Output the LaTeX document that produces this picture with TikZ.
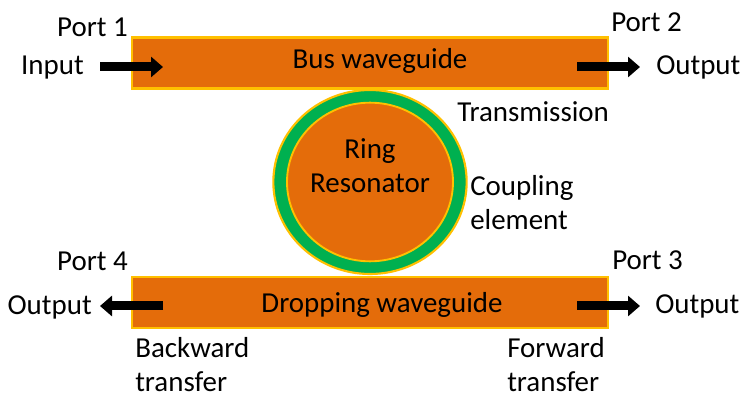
\documentclass[tikz,border=0pt]{standalone}
\usepackage{fontspec}
\setmainfont{Carlito}
\usetikzlibrary{arrows.meta,shapes.geometric}
\definecolor{wgorange}{RGB}{228,108,10}
\definecolor{wgyellow}{RGB}{255,192,0}
\definecolor{wggreen}{RGB}{0,176,80}

\begin{document}
\begin{tikzpicture}[x=0.75pt,y=-0.75pt,
  guide/.style={draw=wgyellow, fill=wgorange, line width=1.8pt, minimum width=357pt, minimum height=38.5pt, inner sep=0pt},
  txt/.style={inner sep=0pt, font=\fontsize{21.7}{25.5}\selectfont, align=left},
  flow/.style={-{Triangle[length=9pt,width=15pt]}, line width=6.75pt}]
\useasboundingbox (0,0) rectangle (744,399);
% waveguides
\node[guide] (bus) at (370,63) {};
\node[guide] (drop) at (370,302.5) {};
\node[txt, anchor=base] (bustxt) at (380,69) {Bus waveguide};
\node[txt, anchor=base] (droptxt) at (382,313) {Dropping waveguide};
% ring
\node[ellipse, draw=wgyellow, fill=wggreen, line width=1.6pt, minimum width=145pt, minimum height=138pt] (ring) at (370,182) {};
\node[ellipse, draw=wgyellow, fill=wgorange, line width=1.4pt, minimum width=124.5pt, minimum height=119pt] (core) at (ring.center) {};
\node[txt, align=center, anchor=base] (ringtxt) at (370,193) {Ring\\Resonator};
% port labels
\node[txt, anchor=base east] (port1) at (128,37) {Port 1};
\node[txt, anchor=base east] (in1) at (84,75) {Input};
\node[txt, anchor=base west] (port2) at (611,32) {Port 2};
\node[txt, anchor=base west] (out2) at (656,75) {Output};
\node[txt, anchor=base east] (port4) at (128,271) {Port 4};
\node[txt, anchor=base east] (out4) at (92,315) {Output};
\node[txt, anchor=base west] (port3) at (612,270) {Port 3};
\node[txt, anchor=base west] (out3) at (655,314) {Output};
\node[txt, anchor=base west] (trans) at (457,122) {Transmission};
\node[txt, anchor=base west] (coupl) at (470,230) {Coupling\\element};
\node[txt, anchor=base west] (backw) at (135,392) {Backward\\transfer};
\node[txt, anchor=base west] (forw) at (507,392) {Forward\\transfer};
% arrows
\coordinate (a1) at (100,67); \coordinate (b1) at (163,67);
\coordinate (a2) at (577,67); \coordinate (b2) at (640,67);
\coordinate (a4) at (163,306); \coordinate (b4) at (100,306);
\coordinate (a3) at (577,306); \coordinate (b3) at (640,306);
\draw[flow] (a1) -- (b1);
\draw[flow] (a2) -- (b2);
\draw[flow] (a4) -- (b4);
\draw[flow] (a3) -- (b3);
\end{tikzpicture}
\end{document}
